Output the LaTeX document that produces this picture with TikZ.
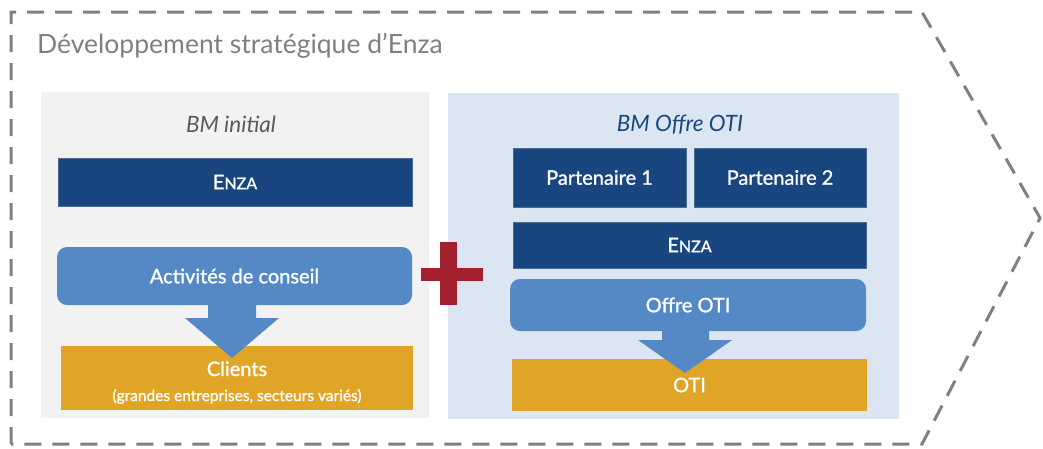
\documentclass[tikz,border=0pt]{standalone}
\usepackage{fontspec}
\setmainfont{Lato}
\newfontfamily\medfont[FakeBold=1.2]{Lato}
\definecolor{dash}{HTML}{808080}
\definecolor{titlegray}{HTML}{7F7F7F}
\definecolor{labgray}{HTML}{595959}
\definecolor{panelgray}{HTML}{F2F2F2}
\definecolor{panelblue}{HTML}{DCE6F2}
\definecolor{darkblue}{HTML}{1A4680}
\definecolor{midblue}{HTML}{5489C6}
\definecolor{gold}{HTML}{E0A526}
\definecolor{plusred}{HTML}{A3212F}
\newcommand{\enzasc}{{\medfont\fontsize{20}{23}\selectfont E\fontsize{16}{18}\selectfont NZA}}
\tikzset{
  panel/.style={inner sep=0pt, outer sep=0pt},
  boxfont/.style={font=\medfont\fontsize{20}{23}\selectfont},
  darkbox/.style={fill=darkblue, draw=darkblue!80!white, line width=0.6pt, text=white, inner sep=0pt, boxfont},
  actbox/.style={fill=midblue, rounded corners=10pt, text=white, inner sep=0pt, boxfont},
  goldbox/.style={fill=gold, text=white, inner sep=0pt, align=center, boxfont},
  flowarrow/.style={fill=midblue},
  outline/.style={draw=dash, line width=3pt, dash pattern=on 17pt off 11pt},
  paneltitle/.style={font=\fontsize{22.5}{26}\selectfont\itshape, inner sep=0pt, anchor=base}
}
\begin{document}
\begin{tikzpicture}[x=1pt,y=-1pt]
\useasboundingbox (0,0) rectangle (1043,448);
% outline
\draw[outline] (11,444) -- (11,12) -- (922,12) -- (1040,218) -- (922,444) -- cycle;
\node[anchor=base west, inner sep=0pt, text=titlegray, font=\fontsize{26.5}{31}\selectfont] (title) at (37,53) {Développement stratégique d’Enza};
% panels
\node[panel, fill=panelgray, minimum width=388pt, minimum height=326pt] (leftpanel) at (235,255) {};
\node[panel, fill=panelblue, minimum width=451pt, minimum height=326pt] (rightpanel) at (673.5,256) {};
\node[paneltitle, text=labgray] (bminit) at (231,132) {BM initial};
\node[paneltitle, text=darkblue] (bmoffre) at (680,131) {BM Offre OTI};
% left BM
\node[darkbox, minimum width=354pt, minimum height=48pt] (enza1) at (235,182) {\enzasc};
\node[actbox, minimum width=355pt, minimum height=58pt] (act) at (234.5,276) {Activités de conseil};
\node[goldbox, minimum width=352pt, minimum height=64pt] (clients) at (237,378) {};
\fill[flowarrow] (208,300) -- (256,300) -- (256,318) -- (279,318) -- (232,358) -- (185,318) -- (208,318) -- cycle;
\node[anchor=base, inner sep=0pt, text=white, boxfont] (clientsA) at (clients.center |- 0,376) {Clients};
\node[anchor=base, inner sep=0pt, text=white, font=\medfont\fontsize{15.5}{18}\selectfont] (clientsB) at (clients.center |- 0,401) {(grandes entreprises, secteurs variés)};
% plus sign
\fill[plusred] (421,268) rectangle (483,281);
\fill[plusred] (440,242) rectangle (457,305);
% right BM
\node[darkbox, minimum width=173pt, minimum height=59pt] (p1) at (599.5,177.5) {Partenaire 1};
\node[darkbox, minimum width=172pt, minimum height=59pt] (p2) at (780,177.5) {Partenaire 2};
\node[darkbox, minimum width=353pt, minimum height=46pt] (enza2) at (689.5,245) {\enzasc};
\node[actbox, minimum width=356pt, minimum height=52pt] (offre) at (688,305) {Offre OTI};
\node[goldbox, minimum width=355pt, minimum height=52pt] (oti) at (689.5,385) {};
\fill[flowarrow] (662,328) -- (709,328) -- (709,340) -- (732,340) -- (685,373) -- (638,340) -- (662,340) -- cycle;
\node[inner sep=0pt, text=white, boxfont] (otitext) at (oti.center) {OTI};
\end{tikzpicture}
\end{document}
